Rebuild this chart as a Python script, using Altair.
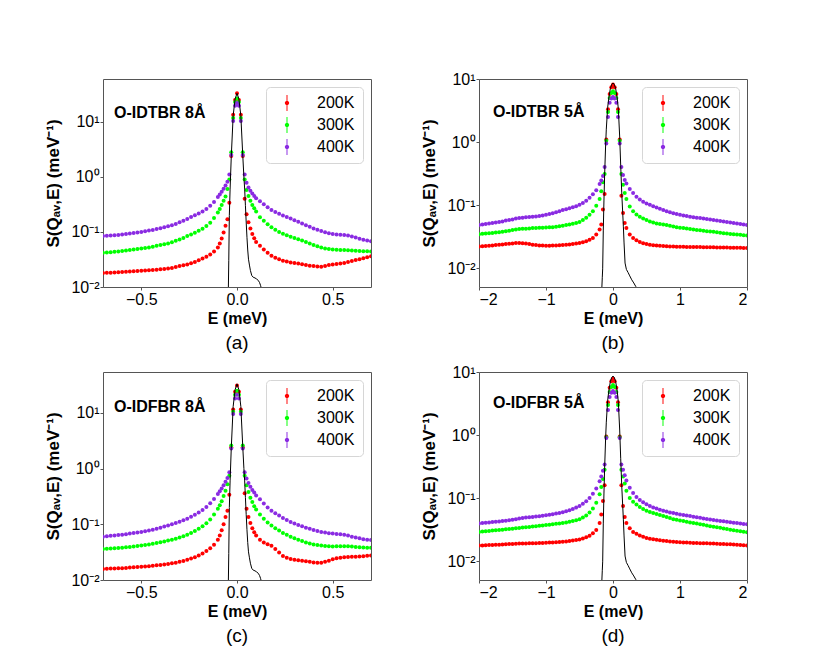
import altair as alt
import pandas as pd

# ---------------- energy grids (meV) ----------------
E8 = [-0.70, -0.68, -0.66, -0.64, -0.62, -0.60, -0.58, -0.56, -0.54, -0.52,
      -0.50, -0.48, -0.46, -0.44, -0.42, -0.40, -0.38, -0.36, -0.34, -0.32,
      -0.30, -0.28, -0.26, -0.24, -0.22, -0.20, -0.18, -0.16, -0.14, -0.12,
      -0.10, -0.09, -0.08, -0.07, -0.06, -0.05, -0.04, -0.03, -0.02, -0.01,
      0.00, 0.01, 0.02, 0.03, 0.04, 0.05, 0.06, 0.07, 0.08, 0.09, 0.10,
      0.12, 0.14, 0.16, 0.18, 0.20, 0.22, 0.24, 0.26, 0.28, 0.30,
      0.32, 0.34, 0.36, 0.38, 0.40, 0.42, 0.44, 0.46, 0.48, 0.50,
      0.52, 0.54, 0.56, 0.58, 0.60, 0.62, 0.64, 0.66, 0.68, 0.70]

E5 = [-2.00, -1.95, -1.90, -1.85, -1.80, -1.75, -1.70, -1.65, -1.60, -1.55,
      -1.50, -1.45, -1.40, -1.35, -1.30, -1.25, -1.20, -1.15, -1.10, -1.05,
      -1.00, -0.95, -0.90, -0.85, -0.80, -0.75, -0.70, -0.65, -0.60, -0.55,
      -0.50, -0.45, -0.40, -0.35, -0.30, -0.25, -0.20,
      -0.175, -0.15, -0.125, -0.10, -0.075, -0.05, -0.025, 0.0,
      0.025, 0.05, 0.075, 0.10, 0.125, 0.15, 0.175,
      0.20, 0.25, 0.30, 0.35, 0.40, 0.45, 0.50, 0.55, 0.60, 0.65,
      0.70, 0.75, 0.80, 0.85, 0.90, 0.95, 1.00, 1.05, 1.10, 1.15,
      1.20, 1.25, 1.30, 1.35, 1.40, 1.45, 1.50, 1.55, 1.60, 1.65,
      1.70, 1.75, 1.80, 1.85, 1.90, 1.95, 2.00]

# ---------------- (a) O-IDTBR 8 A ----------------
A_200 = [0.0180, 0.0181, 0.0182, 0.0184, 0.0186, 0.0188, 0.0189, 0.0191, 0.0193, 0.0195,
         0.0197, 0.0199, 0.0201, 0.0203, 0.0206, 0.0209, 0.0213, 0.0217, 0.0222, 0.0230,
         0.0240, 0.0248, 0.0257, 0.0270, 0.0285, 0.0305, 0.0328, 0.0355, 0.0390, 0.0440,
         0.052, 0.062, 0.076, 0.098, 0.13, 0.17, 0.34, 2.4, 13.4, 25, 33, 25, 13.4, 2.4,
         0.40, 0.21, 0.15, 0.115, 0.092, 0.077, 0.066,
         0.056, 0.048, 0.042, 0.037, 0.034, 0.032, 0.030, 0.029, 0.028, 0.0272,
         0.0266, 0.0258, 0.0250, 0.0244, 0.0240, 0.0236, 0.0233, 0.0240, 0.0250, 0.0257,
         0.0263, 0.0267, 0.0272, 0.0285, 0.0298, 0.0308, 0.0318, 0.0332, 0.0348, 0.0362]
A_300 = [0.042, 0.0425, 0.043, 0.0435, 0.044, 0.045, 0.046, 0.047, 0.048, 0.049,
         0.050, 0.051, 0.052, 0.054, 0.056, 0.058, 0.060, 0.062, 0.065, 0.069,
         0.073, 0.078, 0.084, 0.090, 0.097, 0.105, 0.114, 0.128, 0.147, 0.180,
         0.225, 0.26, 0.31, 0.37, 0.44, 0.60, 0.90, 2.8, 11.7, 23, 26.5, 23, 11.7, 2.8,
         0.90, 0.58, 0.45, 0.37, 0.31, 0.27, 0.235,
         0.185, 0.160, 0.138, 0.122, 0.110, 0.100, 0.093, 0.087, 0.082, 0.078,
         0.074, 0.070, 0.066, 0.062, 0.058, 0.055, 0.052, 0.050, 0.049, 0.048,
         0.0475, 0.047, 0.047, 0.0465, 0.046, 0.0455, 0.045, 0.0447, 0.0445, 0.0443]
A_400 = [0.084, 0.085, 0.086, 0.087, 0.088, 0.090, 0.092, 0.094, 0.096, 0.098,
         0.100, 0.103, 0.106, 0.109, 0.113, 0.117, 0.122, 0.127, 0.133, 0.140,
         0.150, 0.160, 0.172, 0.186, 0.200, 0.216, 0.235, 0.262, 0.300, 0.350,
         0.43, 0.48, 0.54, 0.61, 0.70, 0.82, 1.10, 2.5, 10.4, 19.5, 22, 19.5, 10.4, 2.5,
         1.10, 0.78, 0.64, 0.56, 0.50, 0.45, 0.41,
         0.36, 0.32, 0.28, 0.25, 0.23, 0.213, 0.198, 0.186, 0.175, 0.163,
         0.153, 0.143, 0.133, 0.124, 0.116, 0.110, 0.104, 0.099, 0.095, 0.092,
         0.090, 0.089, 0.088, 0.086, 0.083, 0.079, 0.075, 0.072, 0.070, 0.068]

# ---------------- (c) O-IDFBR 8 A ----------------
C_200 = [0.0158, 0.0159, 0.0160, 0.0161, 0.0162, 0.0163, 0.0165, 0.0167, 0.0169, 0.0171,
         0.0173, 0.0175, 0.0177, 0.0180, 0.0183, 0.0186, 0.0190, 0.0194, 0.0199, 0.0205,
         0.0212, 0.0220, 0.0230, 0.0242, 0.0257, 0.0276, 0.0300, 0.0330, 0.0370, 0.0430,
         0.053, 0.063, 0.078, 0.10, 0.135, 0.175, 0.34, 2.4, 11.5, 24, 31, 24, 11.5, 2.4,
         0.36, 0.19, 0.135, 0.105, 0.085, 0.072, 0.063,
         0.053, 0.047, 0.044, 0.041, 0.036, 0.031, 0.027, 0.0250, 0.0238, 0.0230,
         0.0225, 0.0222, 0.0218, 0.0212, 0.0206, 0.0203, 0.0205, 0.0212, 0.0222, 0.0235,
         0.0245, 0.0252, 0.0256, 0.0258, 0.0260, 0.0262, 0.0265, 0.0268, 0.0272, 0.0276]
C_300 = [0.0360, 0.0363, 0.0366, 0.0370, 0.0374, 0.0380, 0.0386, 0.0393, 0.0400, 0.0408,
         0.0416, 0.0425, 0.0435, 0.0446, 0.0460, 0.0475, 0.049, 0.051, 0.053, 0.055,
         0.058, 0.061, 0.065, 0.070, 0.076, 0.083, 0.092, 0.104, 0.122, 0.150,
         0.19, 0.22, 0.26, 0.32, 0.40, 0.52, 0.74, 2.6, 10.5, 21, 25, 21, 10.5, 2.6,
         0.74, 0.50, 0.38, 0.30, 0.25, 0.21, 0.185,
         0.150, 0.125, 0.108, 0.095, 0.085, 0.077, 0.070, 0.065, 0.060, 0.056,
         0.053, 0.050, 0.047, 0.045, 0.0435, 0.0425, 0.0415, 0.0408, 0.0402, 0.0400,
         0.0402, 0.0405, 0.0405, 0.0402, 0.0398, 0.0393, 0.0388, 0.0384, 0.0380, 0.0378]
C_400 = [0.060, 0.061, 0.062, 0.063, 0.064, 0.065, 0.0665, 0.068, 0.0695, 0.071,
         0.073, 0.075, 0.077, 0.080, 0.083, 0.087, 0.091, 0.095, 0.100, 0.105,
         0.111, 0.118, 0.126, 0.136, 0.148, 0.162, 0.180, 0.205, 0.238, 0.285,
         0.35, 0.39, 0.44, 0.50, 0.58, 0.68, 0.86, 2.3, 9.5, 18, 21, 18, 9.5, 2.3,
         0.86, 0.66, 0.55, 0.47, 0.41, 0.37, 0.33,
         0.28, 0.235, 0.200, 0.175, 0.157, 0.143, 0.130, 0.119, 0.110, 0.103,
         0.097, 0.092, 0.087, 0.083, 0.079, 0.076, 0.073, 0.071, 0.069, 0.068,
         0.067, 0.066, 0.065, 0.063, 0.060, 0.058, 0.056, 0.054, 0.053, 0.052]

# ---------------- (b) O-IDTBR 5 A ----------------
B_200 = [0.0220, 0.0222, 0.0224, 0.0226, 0.0228, 0.0231, 0.0234, 0.0237, 0.0240, 0.0243,
         0.0246, 0.0249, 0.0250, 0.0248, 0.0245, 0.0240, 0.0235, 0.0231, 0.0228, 0.0227,
         0.0226, 0.0226, 0.0227, 0.0228, 0.0230, 0.0232, 0.0234, 0.0237, 0.0241, 0.0245,
         0.0250, 0.0257, 0.0266, 0.0280, 0.0300, 0.0340, 0.0410,
         0.049, 0.085, 0.15, 1.1, 3.3, 5.8, 7.4, 8.2, 7.4, 5.8, 3.3, 1.1, 0.14, 0.075, 0.052,
         0.043, 0.034, 0.030, 0.0276, 0.0260, 0.0248, 0.0240, 0.0234, 0.0230, 0.0227,
         0.0225, 0.0223, 0.0222, 0.0220, 0.0219, 0.0218, 0.0217, 0.0217, 0.0216, 0.0216,
         0.0215, 0.0215, 0.0215, 0.0214, 0.0214, 0.0213, 0.0213, 0.0212, 0.0212, 0.0211,
         0.0211, 0.0210, 0.0210, 0.0209, 0.0209, 0.0208, 0.0208]
B_300 = [0.0345, 0.0350, 0.0352, 0.0356, 0.0360, 0.0365, 0.0370, 0.0378, 0.0385, 0.0390,
         0.0400, 0.0410, 0.0415, 0.0420, 0.0422, 0.0425, 0.0430, 0.0432, 0.0435, 0.0437,
         0.0440, 0.0442, 0.0445, 0.0450, 0.0460, 0.0470, 0.0480, 0.0490, 0.0505, 0.0520,
         0.0540, 0.0580, 0.0630, 0.0700, 0.0800, 0.0970, 0.125,
         0.165, 0.23, 0.31, 1.05, 3.0, 5.0, 6.0, 6.4, 6.0, 5.0, 3.0, 1.05, 0.31, 0.21, 0.155,
         0.125, 0.095, 0.080, 0.071, 0.065, 0.061, 0.058, 0.055, 0.053, 0.051,
         0.050, 0.049, 0.048, 0.0468, 0.0455, 0.0445, 0.0437, 0.0430, 0.0423, 0.0416,
         0.0410, 0.0403, 0.0397, 0.0390, 0.0385, 0.0380, 0.0375, 0.0370, 0.0364, 0.0358,
         0.0353, 0.0348, 0.0344, 0.0340, 0.0336, 0.0332, 0.0328]
B_400 = [0.048, 0.049, 0.050, 0.051, 0.052, 0.053, 0.054, 0.055, 0.057, 0.058,
         0.059, 0.061, 0.062, 0.063, 0.064, 0.0645, 0.065, 0.066, 0.067, 0.068,
         0.070, 0.072, 0.074, 0.077, 0.080, 0.083, 0.086, 0.089, 0.092, 0.096,
         0.101, 0.108, 0.117, 0.130, 0.148, 0.172, 0.215,
         0.245, 0.29, 0.40, 0.95, 2.5, 4.2, 4.9, 5.2, 4.9, 4.2, 2.5, 0.95, 0.40, 0.30, 0.25,
         0.22, 0.18, 0.155, 0.135, 0.122, 0.113, 0.106, 0.101, 0.096, 0.091,
         0.087, 0.083, 0.080, 0.077, 0.074, 0.072, 0.070, 0.068, 0.067, 0.065,
         0.064, 0.063, 0.062, 0.061, 0.060, 0.059, 0.058, 0.057, 0.056, 0.055,
         0.054, 0.053, 0.052, 0.051, 0.050, 0.049, 0.048]

# ---------------- (d) O-IDFBR 5 A ----------------
D_200 = [0.0176, 0.0177, 0.0178, 0.0179, 0.0180, 0.0181, 0.0182, 0.0183, 0.0185, 0.0186,
         0.0187, 0.0188, 0.0189, 0.0190, 0.0190, 0.0191, 0.0192, 0.0192, 0.0193, 0.0194,
         0.0195, 0.0196, 0.0197, 0.0198, 0.0200, 0.0202, 0.0204, 0.0207, 0.0211, 0.0215,
         0.0220, 0.0228, 0.0238, 0.0252, 0.0275, 0.0310, 0.0400,
         0.055, 0.09, 0.16, 0.95, 3.3, 5.6, 7.1, 7.8, 7.1, 5.6, 3.3, 0.95, 0.16, 0.075, 0.050,
         0.040, 0.033, 0.029, 0.027, 0.0255, 0.0243, 0.0233, 0.0226, 0.0221, 0.0217,
         0.0213, 0.0210, 0.0207, 0.0204, 0.0202, 0.0200, 0.0198, 0.0197, 0.0196, 0.0195,
         0.0194, 0.0193, 0.0192, 0.0192, 0.0191, 0.0190, 0.0189, 0.0188, 0.0187, 0.0186,
         0.0185, 0.0184, 0.0183, 0.0181, 0.0180, 0.0178, 0.0176]
D_300 = [0.0290, 0.0294, 0.0297, 0.0300, 0.0304, 0.0307, 0.0310, 0.0314, 0.0318, 0.0322,
         0.0326, 0.0331, 0.0335, 0.0340, 0.0344, 0.0348, 0.0352, 0.0357, 0.0362, 0.0367,
         0.0372, 0.0377, 0.0383, 0.0389, 0.0395, 0.0402, 0.0410, 0.0419, 0.0430, 0.0443,
         0.0460, 0.0490, 0.0530, 0.0590, 0.0680, 0.0840, 0.1150,
         0.15, 0.20, 0.28, 0.92, 3.0, 4.8, 5.8, 6.2, 5.8, 4.8, 3.0, 0.92, 0.28, 0.22, 0.17,
         0.13, 0.10, 0.087, 0.079, 0.072, 0.067, 0.063, 0.060, 0.058, 0.056,
         0.054, 0.052, 0.050, 0.048, 0.046, 0.045, 0.044, 0.043, 0.042, 0.041,
         0.040, 0.0393, 0.0385, 0.0375, 0.0365, 0.0357, 0.0350, 0.0343, 0.0336, 0.0329,
         0.0322, 0.0315, 0.0309, 0.0303, 0.0298, 0.0292, 0.0286]
D_400 = [0.0395, 0.0400, 0.0405, 0.0410, 0.0415, 0.0420, 0.0425, 0.0430, 0.0435, 0.0442,
         0.0450, 0.0460, 0.0472, 0.0482, 0.0490, 0.0496, 0.0502, 0.0508, 0.0515, 0.0523,
         0.0532, 0.0542, 0.0553, 0.0566, 0.0580, 0.0597, 0.0617, 0.0640, 0.0670, 0.0705,
         0.0750, 0.081, 0.089, 0.100, 0.117, 0.142, 0.185,
         0.22, 0.27, 0.34, 0.90, 2.5, 4.0, 4.7, 5.0, 4.7, 4.0, 2.5, 0.90, 0.34, 0.28, 0.23,
         0.19, 0.145, 0.12, 0.104, 0.093, 0.086, 0.080, 0.075, 0.071, 0.068,
         0.065, 0.063, 0.061, 0.059, 0.058, 0.0565, 0.055, 0.054, 0.053, 0.052,
         0.0505, 0.0495, 0.0485, 0.0475, 0.0465, 0.0455, 0.0447, 0.0440, 0.0433, 0.0427,
         0.0420, 0.0413, 0.0406, 0.0400, 0.0394, 0.0388, 0.0382]

# ---------------- resolution functions (black lines) ----------------
RES8_E = [-0.050, -0.046, -0.043, -0.040, -0.036, -0.030, -0.020, -0.010, 0.000,
          0.010, 0.020, 0.030, 0.036, 0.040, 0.044, 0.048, 0.052, 0.056, 0.060,
          0.065, 0.070, 0.077, 0.085, 0.094, 0.102, 0.111, 0.118, 0.123, 0.130, 0.140]
RES8_V = [0.001, 0.006, 0.03, 0.2, 0.6, 2.3, 13, 26, 33,
          26, 13, 2.5, 1.0, 0.6, 0.3, 0.15, 0.08, 0.047, 0.032,
          0.025, 0.020, 0.0162, 0.0150, 0.0146, 0.0140, 0.0132, 0.0120, 0.0107, 0.0087, 0.006]
RES5_E = [-0.185, -0.170, -0.160, -0.154, -0.145, -0.135, -0.125, -0.110, -0.100,
          -0.080, -0.065, -0.040, -0.020, 0.000, 0.020, 0.040, 0.065, 0.080, 0.100,
          0.115, 0.130, 0.145, 0.155, 0.165, 0.180, 0.200, 0.225, 0.250, 0.280,
          0.310, 0.340, 0.370]
RES5_V = [0.002, 0.004, 0.007, 0.0097, 0.04, 0.12, 0.3, 0.9, 1.6,
          3.5, 4.8, 7.0, 8.2, 8.6, 8.2, 7.0, 4.8, 3.3, 1.2,
          0.42, 0.16, 0.075, 0.045, 0.025, 0.012, 0.0095, 0.0085, 0.0075, 0.0065,
          0.0058, 0.0051, 0.0045]

TEMPS = ["200K", "300K", "400K"]
COLORS = ["#ff0000", "#00ff00", "#8a2be2"]
FONT = "Liberation Sans"
YTITLE = "S(Q\u2090\u1d65,E) (meV\u207b\u00b9)"
LEGEND_SYMBOL = ("M-0.06,-1L0.06,-1L0.06,1L-0.06,1Z "
                 "M0.27,0A0.27,0.27,0,1,1,-0.27,0A0.27,0.27,0,1,1,0.27,0Z")
YLABELS = ("datum.value < 0.05 ? '10\u207b\u00b2' : datum.value < 0.5 ? '10\u207b\u00b9' : "
           "datum.value < 5 ? '10\u2070' : '10\u00b9'")


def series_frame(E, series):
    rows = []
    for t, vals in zip(TEMPS, series):
        assert len(vals) == len(E), (t, len(vals), len(E))
        for e, v in zip(E, vals):
            rows.append({"E": e, "S": v, "T": t})
    return pd.DataFrame(rows)


def panel(E, series, resE, resV, xdom, xvals, xfmt, ydom, label, lx, ly, caption):
    pts = series_frame(E, series)
    res = pd.DataFrame({"E": resE, "S": resV})
    x = alt.X("E:Q", scale=alt.Scale(domain=xdom, nice=False, zero=False),
              axis=alt.Axis(values=xvals, format=xfmt, title="E (meV)"))
    y = alt.Y("S:Q", scale=alt.Scale(type="log", domain=ydom, nice=False),
              axis=alt.Axis(values=[0.01, 0.1, 1, 10], labelExpr=YLABELS,
                            labelOverlap=False, title=YTITLE))
    points = alt.Chart(pts).mark_circle(size=16, opacity=1, clip=True).encode(
        x=x, y=y,
        color=alt.Color("T:N", scale=alt.Scale(domain=TEMPS, range=COLORS),
                        legend=alt.Legend(title=None, orient="top-right", offset=8,
                                          fillColor="white", strokeColor="#d6d6d6",
                                          cornerRadius=4, padding=8,
                                          labelFontSize=16, labelFont=FONT,
                                          labelColor="black",
                                          symbolType=LEGEND_SYMBOL, symbolSize=256,
                                          symbolStrokeWidth=0, symbolOpacity=1,
                                          rowPadding=6, labelOffset=22,
                                          symbolOffset=5)),
    )
    line = alt.Chart(res).mark_line(color="black", strokeWidth=1, clip=True).encode(
        x=x, y=y)
    text = alt.Chart(pd.DataFrame({"t": [label]})).mark_text(
        align="left", baseline="middle", font=FONT, fontSize=16, fontWeight="bold",
        color="black").encode(x=alt.value(lx), y=alt.value(ly), text="t:N")
    return alt.layer(points, line, text).properties(
        width=268, height=208,
        title=alt.TitleParams(caption, orient="bottom", fontSize=19, fontWeight="normal",
                              font=FONT, color="black", offset=8, frame="group"))


pa = panel(E8, [A_200, A_300, A_400], RES8_E, RES8_V, [-0.7, 0.7], [-0.5, 0, 0.5], ".1f",
           [0.01, 60], "O-IDTBR 8\u00c5", 11, 34, "(a)")
pb = panel(E5, [B_200, B_300, B_400], RES5_E, RES5_V, [-2, 2], [-2, -1, 0, 1, 2], "d",
           [0.005, 10], "O-IDTBR 5\u00c5", 14, 33, "(b)")
pc = panel(E8, [C_200, C_300, C_400], RES8_E, RES8_V, [-0.7, 0.7], [-0.5, 0, 0.5], ".1f",
           [0.01, 54], "O-IDFBR 8\u00c5", 11, 35, "(c)")
pd_ = panel(E5, [D_200, D_300, D_400], RES5_E, RES5_V, [-2, 2], [-2, -1, 0, 1, 2], "d",
            [0.005, 10], "O-IDFBR 5\u00c5", 14, 31, "(d)")

top = alt.hconcat(pa, pb, spacing=48).resolve_scale(color="independent").resolve_legend(color="independent")
bottom = alt.hconcat(pc, pd_, spacing=48).resolve_scale(color="independent").resolve_legend(color="independent")

chart = alt.vconcat(top, bottom, spacing=9).resolve_scale(
    x="independent", y="independent", color="independent"
).resolve_legend(color="independent").properties(
    padding={"left": 36, "top": 62, "right": 5, "bottom": 0}
).configure(font=FONT).configure_view(
    stroke="#555", strokeWidth=1
).configure_axis(
    labelFontSize=16, titleFontSize=16, titleFontWeight="bold", labelColor="black",
    titleColor="black", grid=False, domain=False, tickColor="#555", tickSize=3,
    labelPadding=1, labelFont=FONT, titleFont=FONT
).configure_axisX(titlePadding=3).configure_axisY(titlePadding=8, titleFontSize=17)

chart.save("out.html", embed_options={"renderer": "svg", "actions": False})
